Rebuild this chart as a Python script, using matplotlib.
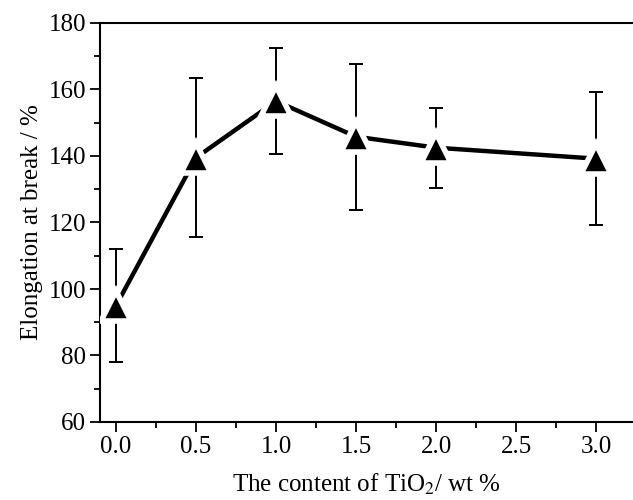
import numpy as np
import matplotlib.pyplot as plt
from matplotlib.ticker import MultipleLocator

# TiO2 content (wt %) and elongation at break (%)
tio2 = [0.0, 0.5, 1.0, 1.5, 2.0, 3.0]
elongation = [95.0, 139.5, 156.5, 145.8, 142.5, 139.2]
err = [17.0, 24.0, 16.0, 22.0, 12.0, 20.0]

plt.rcParams['font.family'] = ['Liberation Serif', 'DejaVu Serif']
plt.rcParams['mathtext.fontset'] = 'stix'

fig = plt.figure(figsize=(6.33, 5), dpi=100)
ax = fig.add_axes([0.158, 0.156, 0.842, 0.798])

ax.errorbar(tio2, elongation, yerr=err, fmt='none', ecolor='black',
            elinewidth=1.4, capsize=5, capthick=1.4, zorder=2)
ax.plot(tio2, elongation, '-^', color='black', lw=3.2,
        ms=21, mfc='black', mec='white', mew=4, zorder=3)

ax.set_xlim(-0.1, 3.23)
ax.set_ylim(60, 180)
ax.xaxis.set_major_locator(MultipleLocator(0.5))
ax.xaxis.set_minor_locator(MultipleLocator(0.25))
ax.yaxis.set_major_locator(MultipleLocator(20))
ax.yaxis.set_minor_locator(MultipleLocator(10))
ax.xaxis.set_major_formatter(plt.FormatStrFormatter('%.1f'))

ax.spines['right'].set_visible(False)
for s in ['left', 'bottom', 'top']:
    ax.spines[s].set_linewidth(1.5)
ax.tick_params(which='major', direction='out', length=7, width=1.3,
               labelsize=18, pad=3)
ax.tick_params(which='minor', direction='out', length=4, width=1.3)
ax.tick_params(top=False, right=False, which='both')

ax.set_xlabel('The content of TiO$_2$/ wt %', fontsize=18, labelpad=10)
ax.set_ylabel('Elongation at break / %', fontsize=18, labelpad=4)

fig.savefig('out.png', dpi=100)
